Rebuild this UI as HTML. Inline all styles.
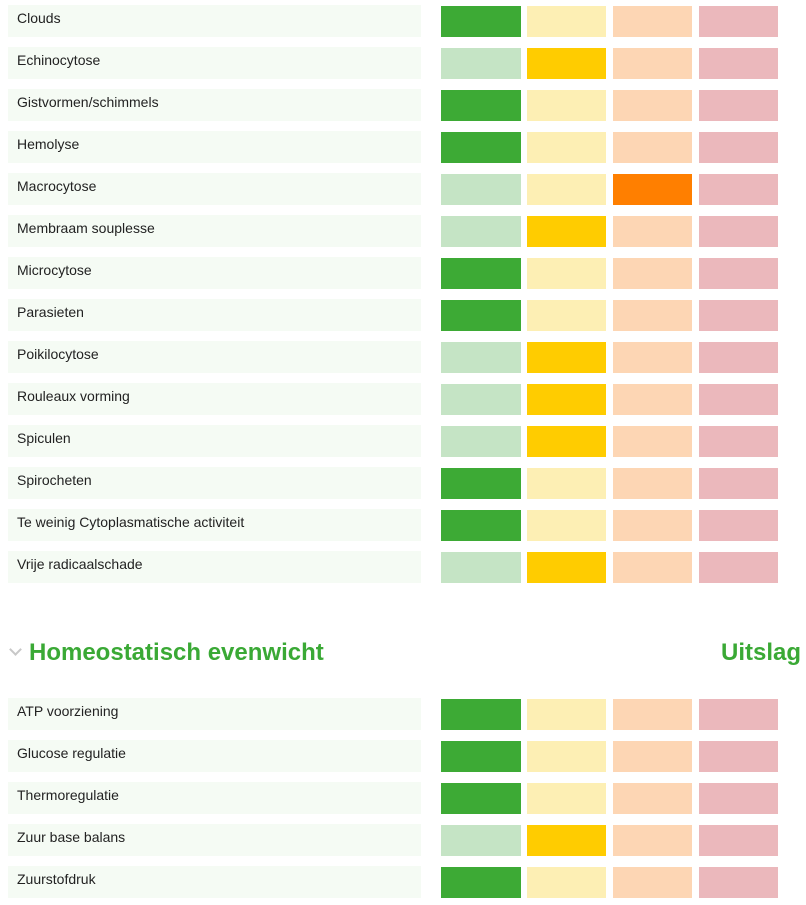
<!DOCTYPE html>
<html><head><meta charset="utf-8"><style>
body{margin:0;width:806px;height:905px;background:#fff;position:relative;overflow:hidden;font-family:"Liberation Sans",sans-serif;}
.lbl{position:absolute;left:8px;width:413px;height:32px;background:#f5fbf4;}
.lbl span{position:absolute;left:9px;top:5px;font-size:14px;color:#222;line-height:16px;}
.cell{position:absolute;height:31px;}
.h{position:absolute;font-weight:bold;color:#3aa935;font-size:24px;line-height:28px;}
.chev{position:absolute;left:11px;top:645px;width:7px;height:7px;border-right:2.5px solid #c8c8c8;border-bottom:2.5px solid #c8c8c8;transform:rotate(45deg);}
</style></head><body>
<div id="root"></div>
<div class="chev"></div>
<div class="h" style="left:29px;top:639px">Homeostatisch evenwicht</div>
<div class="h" style="left:721px;top:639px">Uitslag</div>
<script>
const labels1=["Clouds","Echinocytose","Gistvormen/schimmels","Hemolyse","Macrocytose","Membraam souplesse","Microcytose","Parasieten","Poikilocytose","Rouleaux vorming","Spiculen","Spirocheten","Te weinig Cytoplasmatische activiteit","Vrije radicaalschade"];
const levels1=[0,1,0,0,2,1,0,0,1,1,1,0,0,1];
const labels2=["ATP voorziening","Glucose regulatie","Thermoregulatie","Zuur base balans","Zuurstofdruk"];
const levels2=[0,0,0,1,0];
const inactive=["#c5e4c5","#fdefb4","#fdd6b4","#ebb8bc"];
const active=["#3daa35","#ffcc00","#ff7f00","#e04050"];
const cellX=[441,527,613,699],cellW=[80,79,79,79];
function draw(labels,levels,y0){
  labels.forEach((t,i)=>{
    const y=y0+i*42;
    const l=document.createElement('div');l.className='lbl';l.style.top=(y-1)+'px';
    
    
    const s=document.createElement('span');s.textContent=t;l.appendChild(s);
    document.body.appendChild(l);
    for(let k=0;k<4;k++){
      const c=document.createElement('div');c.className='cell';
      c.style.left=cellX[k]+'px';c.style.width=cellW[k]+'px';c.style.top=y+'px';
      c.style.background=levels[i]===k?active[k]:inactive[k];
      
      
      document.body.appendChild(c);
    }
  });
}
draw(labels1,levels1,6);
draw(labels2,levels2,699);
</script>
</body></html>
